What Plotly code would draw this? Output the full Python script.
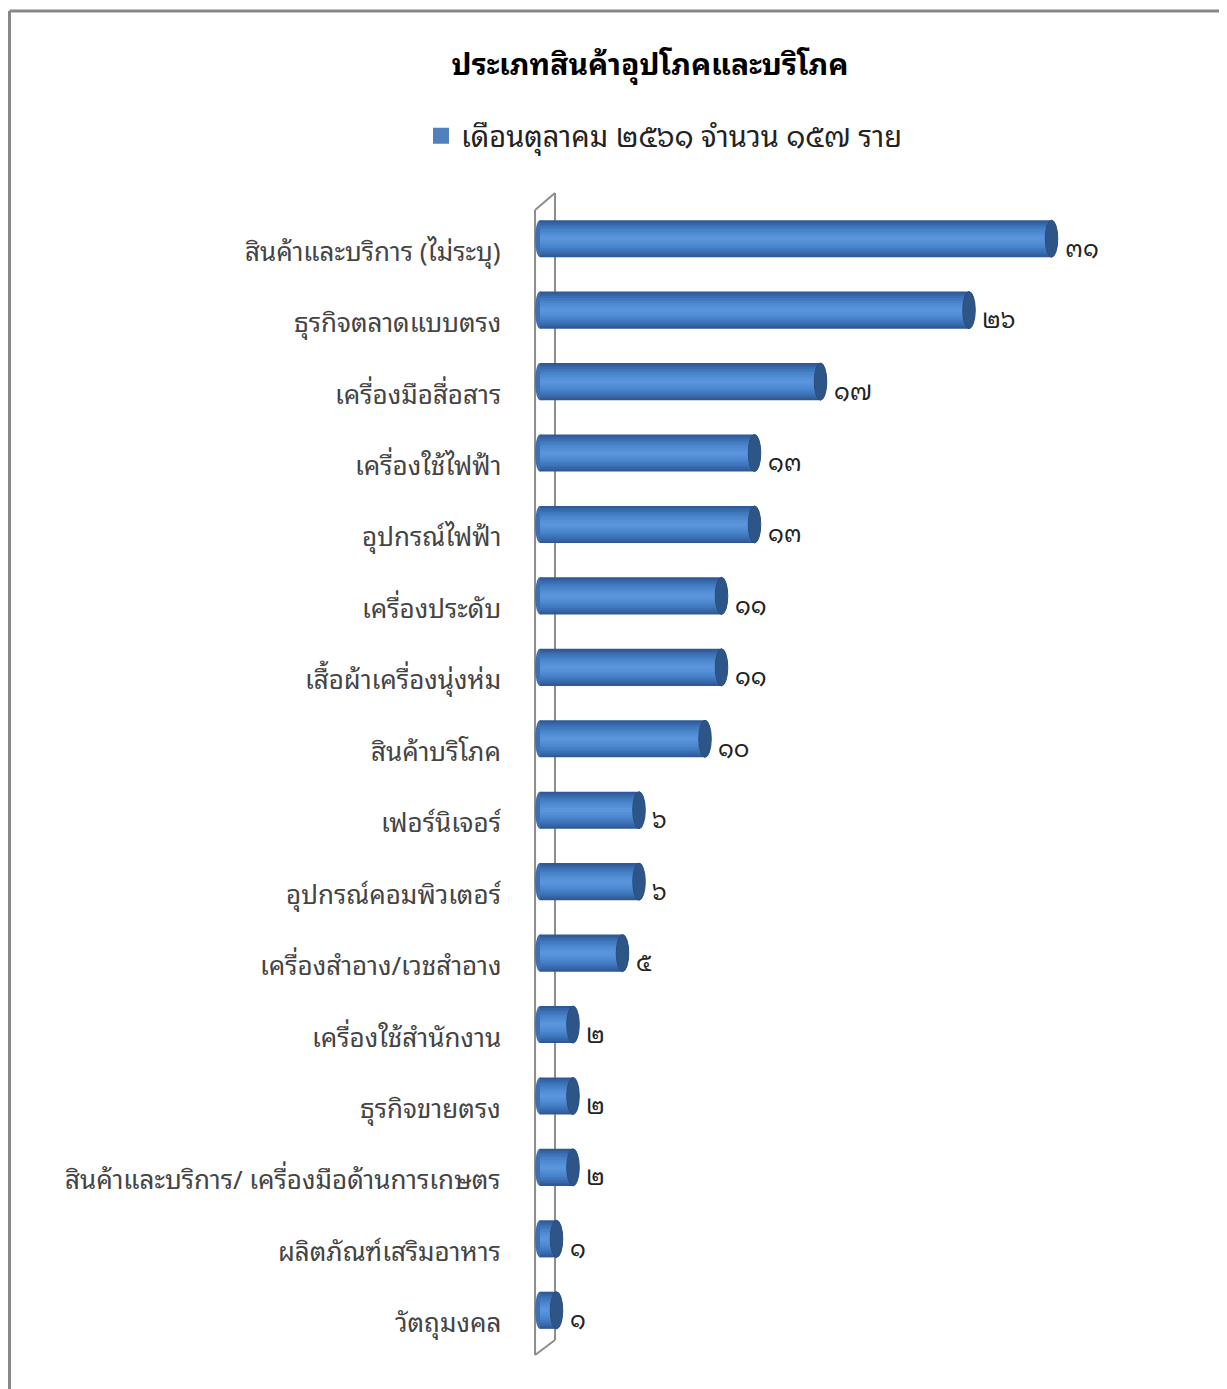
import plotly.graph_objects as go

categories = [
    "สินค้าและบริการ (ไม่ระบุ)",
    "ธุรกิจตลาดแบบตรง",
    "เครื่องมือสื่อสาร",
    "เครื่องใช้ไฟฟ้า",
    "อุปกรณ์ไฟฟ้า",
    "เครื่องประดับ",
    "เสื้อผ้าเครื่องนุ่งห่ม",
    "สินค้าบริโภค",
    "เฟอร์นิเจอร์",
    "อุปกรณ์คอมพิวเตอร์",
    "เครื่องสำอาง/เวชสำอาง",
    "เครื่องใช้สำนักงาน",
    "ธุรกิจขายตรง",
    "สินค้าและบริการ/ เครื่องมือด้านการเกษตร",
    "ผลิตภัณฑ์เสริมอาหาร",
    "วัตถุมงคล",
]
values = [31, 26, 17, 13, 13, 11, 11, 10, 6, 6, 5, 2, 2, 2, 1, 1]
series_name = "เดือนตุลาคม ๒๕๖๑ จำนวน ๑๕๗ ราย"
title_text = "ประเภทสินค้าอุปโภคและบริโภค"

THAI_DIGITS = str.maketrans("0123456789", "๐๑๒๓๔๕๖๗๘๙")
labels = [str(v).translate(THAI_DIGITS) for v in values]

FONT = ("'Noto Sans Thai Looped', Tahoma, 'Leelawadee UI', 'Noto Sans Thai', "
        "'Noto Sans', sans-serif")

# page has an 8px body margin, so figure coords = page coords - 8
OFF = 8
W, H = 1227 - OFF, 1389 - OFF
ML, MR, MT, MB = 530 - OFF, 97, 203 - OFF, 43
PW, PH = W - ML - MR, H - MT - MB
SCALE = 16.5  # px per unit


def py(page_y):
    return (H - MB - (page_y - OFF)) / PH


def px(page_x):
    return ((page_x - OFF) - ML) / PW


fig = go.Figure()
# cylinder shading layers (outer dark -> inner light)
layers = [
    (0.52, "#2F5A95"),
    (0.46, "#3565A5"),
    (0.40, "#3B6FB3"),
    (0.34, "#4179BF"),
    (0.27, "#4882C9"),
    (0.20, "#4E8AD1"),
    (0.13, "#5490D7"),
    (0.06, "#5A95DB"),
]
for wdt, col in layers:
    fig.add_trace(go.Bar(y=categories, x=values, orientation="h", width=wdt,
                         marker=dict(color=col, line=dict(width=0)),
                         showlegend=False, hoverinfo="skip"))
# legend entry
fig.add_trace(go.Scatter(y=[None], x=[None], mode="markers",
                         marker=dict(color="#4F81BD", symbol="square", size=20),
                         name=series_name, showlegend=True))

shapes = []
for i, v in enumerate(values):
    # rounded start of the cylinder
    shapes.append(dict(type="circle", xref="x", yref="y",
                       x0=-0.3, x1=0.3, y0=i - 0.26, y1=i + 0.26,
                       fillcolor="#3C70B3", line=dict(width=0), layer="below"))
    # end cap
    shapes.append(dict(type="circle", xref="x", yref="y",
                       x0=v - 0.38, x1=v + 0.38, y0=i - 0.26, y1=i + 0.26,
                       fillcolor="#2E5587", line=dict(color="#2A4E7E", width=1),
                       layer="above"))

wall = "#8C8C8C"
shapes += [
    dict(type="line", xref="x", yref="paper", x0=-0.3, x1=-0.3, y0=py(1355), y1=py(210),
         line=dict(color=wall, width=2), layer="below"),
    dict(type="line", xref="x", yref="paper", x0=-0.3, x1=0.91, y0=py(210), y1=py(193),
         line=dict(color=wall, width=2), layer="below"),
    dict(type="line", xref="x", yref="paper", x0=0.91, x1=0.91, y0=py(193), y1=py(1340),
         line=dict(color=wall, width=2), layer="below"),
    dict(type="line", xref="x", yref="paper", x0=0.91, x1=-0.3, y0=py(1340), y1=py(1355),
         line=dict(color=wall, width=2), layer="below"),
    # outer chart border (left and top)
    dict(type="line", xref="paper", yref="paper", x0=px(9.5), x1=px(1240),
         y0=py(11), y1=py(11), line=dict(color="#888888", width=3)),
    dict(type="line", xref="paper", yref="paper", x0=px(9.5), x1=px(9.5),
         y0=py(11), y1=py(1400), line=dict(color="#888888", width=3)),
]

annotations = []
for i, (v, t) in enumerate(zip(values, labels)):
    annotations.append(dict(x=v, y=i, xref="x", yref="y", text=t, showarrow=False,
                            xanchor="left", yanchor="middle", xshift=11, yshift=-7,
                            font=dict(family=FONT, size=24, color="#222222")))
# category labels (right-aligned, sitting slightly below bar centres)
for i, c in enumerate(categories):
    annotations.append(dict(x=0, y=i, xref="x", yref="y", text=c, showarrow=False,
                            xanchor="right", yanchor="middle", xshift=-37, yshift=-10,
                            font=dict(family=FONT, size=26, color="#444444")))

fig.update_layout(
    width=W, height=H,
    margin=dict(l=ML, r=MR, t=MT, b=MB),
    paper_bgcolor="white", plot_bgcolor="white",
    barmode="overlay",
    title=dict(text="<b>" + title_text + "</b>", x=(650 - OFF) / W, xanchor="center",
               xref="container", yref="container", y=1 - (64 - OFF) / H, yanchor="middle",
               font=dict(family=FONT, size=30, color="#000000")),
    legend=dict(orientation="h", xref="container", yref="container",
                x=(664 - OFF) / W, xanchor="center", y=1 - (136 - OFF) / H,
                yanchor="middle",
                font=dict(family=FONT, size=29, color="#222222"),
                itemwidth=30),
    xaxis=dict(range=[-10 / SCALE, (PW - 10) / SCALE], visible=False,
               showgrid=False, zeroline=False, fixedrange=True),
    yaxis=dict(autorange="reversed", showgrid=False, zeroline=False,
               showline=False, ticks="", showticklabels=False),
    shapes=shapes,
    annotations=annotations,
    showlegend=True,
)

fig.write_html("out.html")
